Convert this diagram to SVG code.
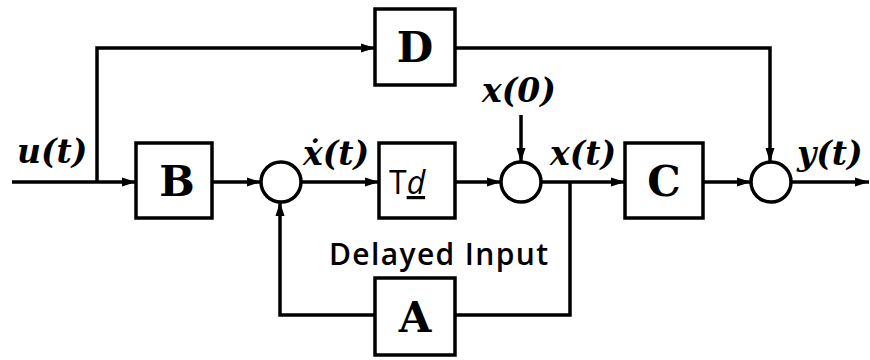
<svg xmlns="http://www.w3.org/2000/svg" width="870" height="360" viewBox="0 0 870 360">
<defs>
<marker id="ah" markerWidth="14" markerHeight="10" refX="14" refY="5" orient="auto" markerUnits="userSpaceOnUse">
<path d="M0,0.5 L14,5 L0,9.5 Z" fill="#000"/>
</marker>
<style>
.box{fill:#fff;stroke:#000;stroke-width:3.5}
.sum{fill:#fff;stroke:#000;stroke-width:3.5}
.ln{fill:none;stroke:#000;stroke-width:3.5}
.arr{fill:none;stroke:#000;stroke-width:3.5;marker-end:url(#ah)}
.bl{font-family:"DejaVu Serif","Liberation Serif",serif;font-weight:bold;font-size:42px;text-anchor:middle}
.sig{font-family:"DejaVu Serif","Liberation Serif",serif;font-weight:bold;font-style:italic;font-size:33px}
.sans{font-family:"Open Sans","Liberation Sans",sans-serif;font-weight:600;font-size:30px}
.td{font-family:"Open Sans","Liberation Sans",sans-serif;font-weight:normal;font-size:32px}
</style>
</defs>
<rect width="870" height="360" fill="#fff"/>
<g id="connectors">
<path class="arr" d="M12,182 H136"/>
<path class="arr" d="M97,182 V48 H375"/>
<path class="arr" d="M212,182 H261"/>
<path class="arr" d="M301,182 H379"/>
<path class="arr" d="M455,182 H501"/>
<path class="arr" d="M521,115 V162"/>
<path class="arr" d="M541,182 H625"/>
<path class="ln" d="M570,182 V315 H455"/>
<path class="arr" d="M375,315 H280 V202"/>
<path class="arr" d="M703,182 H751"/>
<path class="arr" d="M455,48 H770 V162"/>
<path class="arr" d="M791,182 H869"/>
</g>
<g id="B"><rect class="box" x="136" y="143" width="76" height="75"/><text class="bl" x="177" y="196">B</text></g>
<g id="D"><rect class="box" x="375" y="9" width="80" height="76"/><text class="bl" x="415" y="62">D</text></g>
<g id="Td"><rect class="box" x="379" y="143" width="76" height="75"/><text class="td" x="389" y="194">T<tspan font-style="italic" text-decoration="underline">d</tspan></text></g>
<g id="C"><rect class="box" x="625" y="143" width="78" height="75"/><text class="bl" x="664" y="196">C</text></g>
<g id="A"><rect class="box" x="375" y="278" width="80" height="77"/><text class="bl" x="415" y="332">A</text></g>
<g id="sum1"><circle class="sum" cx="281" cy="182" r="20"/></g>
<g id="sum2"><circle class="sum" cx="521" cy="182" r="20"/></g>
<g id="sum3"><circle class="sum" cx="771" cy="182" r="20"/></g>
<g id="labels">
<text class="sig" x="17" y="163">u(t)</text>
<text class="sig" x="303" y="165">ẋ(t)</text>
<text class="sig" x="482" y="102">x(0)</text>
<text class="sig" x="550" y="165">x(t)</text>
<text class="sig" x="797" y="165">y(t)</text>
<text class="sans" x="329" y="265" textLength="219">Delayed Input</text>
</g>
</svg>
